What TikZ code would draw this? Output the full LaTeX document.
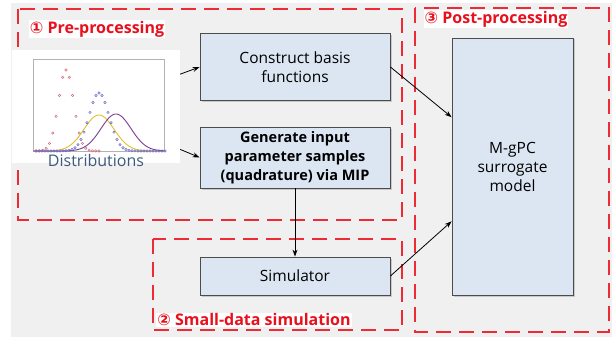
\documentclass[tikz,border=0pt]{standalone}
\usepackage{fontspec}
\setmainfont{Open Sans}
\newfontfamily\circfont{DejaVu Sans}
\usepackage{tikz}
\usetikzlibrary{shadows, arrows.meta}

\definecolor{boxblue}{HTML}{DCE6F2}
\definecolor{dashred}{HTML}{EE2A35}
\definecolor{labelred}{HTML}{E8101C}
\definecolor{bggray}{HTML}{F0F0F0}
\definecolor{disttext}{HTML}{3B5A7E}
\definecolor{dotred}{HTML}{D86A7A}
\definecolor{dotblue}{HTML}{6A6AC8}
\definecolor{curveyellow}{HTML}{E2C02A}
\definecolor{curvepurple}{HTML}{7A3E92}

\tikzset{
    stage/.style={draw=dashred, line width=1.3pt, dash pattern=on 15pt off 8pt},
    procbox/.style={draw=black!70, fill=boxblue, line width=0.8pt, align=center,
        inner sep=0pt, font=\fontsize{15.5}{19}\selectfont,
        drop shadow={shadow xshift=1.5pt, shadow yshift=-1.5pt, opacity=0.35}},
    stagelabel/.style={fill=white, text=labelred, inner sep=1pt,
        font=\fontsize{16}{18}\selectfont\bfseries},
    flow/.style={-{Stealth[length=7pt,width=5pt]}, line width=0.8pt}
}

\begin{document}
\begin{tikzpicture}[x=1pt, y=-1pt]
        \useasboundingbox (0,0) rectangle (615,337);
        % Draw the background
            \fill[bggray] (11,3) rectangle (612,337);

        % Draw the three stages
            \draw[stage] (18,9) rectangle (402,220);
            \draw[stage] (153,239) rectangle (402,330);
            \draw[stage] (415,8) rectangle (609,332);

        % Draw the stage labels
            \node[stagelabel] (prelabel) at (97,29) {{\circfont\bfseries ①} Pre-processing};
            \node[stagelabel] (simlabel) at (254,320) {{\circfont\bfseries ②} Small-data simulation};
            \node[stagelabel] (postlabel) at (496,19) {{\circfont\bfseries ③} Post-processing};

        % Draw the distributions plot
            \node[fill=white, minimum width=168pt, minimum height=113pt, inner sep=0pt] (dist) at (96,106.5) {};
            \draw[gray!60, line width=0.6pt] (33,59) rectangle (164,151);
            \draw[curveyellow, line width=0.9pt] plot[domain=33:164, samples=90, smooth]
                (\x, {151-36*exp(-((\x-99)*(\x-99))/450)});
            \draw[curvepurple, line width=0.9pt] plot[domain=33:164, samples=90, smooth]
                (\x, {151-37*exp(-((\x-116)*(\x-116))/450)});
            \foreach \i in {-9,...,10} {
                \pgfmathsetmacro{\px}{66+3.3*\i}
                \pgfmathsetmacro{\py}{151-81*exp(-((3.3*\i)*(3.3*\i))/115.5)}
                \draw[dotred, line width=0.5pt] (\px,\py) circle (1.2pt);
            }
            \foreach \i in {-21,...,22} {
                \pgfmathsetmacro{\px}{99+3*\i}
                \pgfmathsetmacro{\py}{151-58*exp(-((3*\i)*(3*\i))/200)}
                \draw[dotblue, line width=0.5pt] (\px,\py) circle (1.2pt);
            }
            \node[text=disttext, font=\fontsize{16}{18}\selectfont] (disttitle) at (96,160) {Distributions};

        % Draw the process boxes
            \node[procbox, minimum width=190pt, minimum height=67pt] (construct) at (295,67)
                {Construct basis\\functions};
            \node[procbox, minimum width=190pt, minimum height=61pt, font=\fontsize{14.5}{19}\selectfont\bfseries] (generate) at (295,157.5)
                {Generate input\\parameter samples\\(quadrature) via MIP};
            \node[procbox, minimum width=190pt, minimum height=38pt] (simulator) at (295,276) {Simulator};
            \node[procbox, minimum width=121pt, minimum height=257pt] (mgpc) at (512.5,166.5)
                {M-gPC\\surrogate\\model};

        % Draw the arrows
            \draw[flow] (dist.21) -- (construct.west);
            \draw[flow] (dist.-27) -- (generate.west);
            \draw[flow] (generate.south) -- (simulator.north);
            \draw[flow] (construct.east) -- (mgpc.141);
            \draw[flow] (simulator.east) -- (mgpc.222);
\end{tikzpicture}
\end{document}
